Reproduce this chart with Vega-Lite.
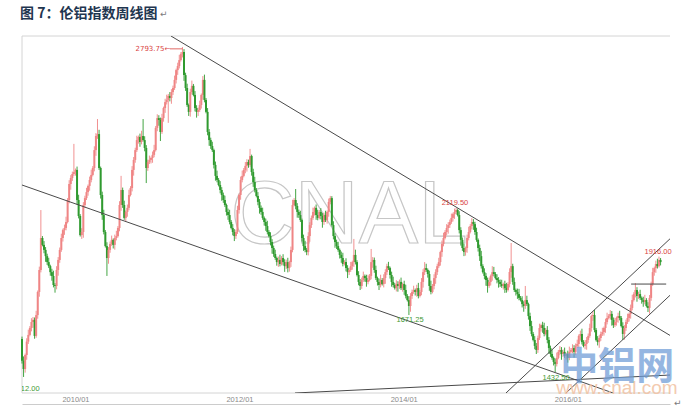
{
"$schema": "https://vega.github.io/schema/vega-lite/v6.json",
"width": 648, "height": 357,
"autosize": {"type": "none"},
"padding": {"left": 22, "top": 36, "right": 26, "bottom": 25},
"background": "#ffffff",
"title": {"text": "图 7：伦铝指数周线图", "anchor": "start", "frame": "group", "font": "Noto Sans CJK SC", "fontSize": 14, "fontWeight": "bold", "color": "#1f3650", "offset": -11, "dx": -2},
"config": {"view": {"stroke": null}},
"datasets": {
"k": [
{"t":"2009-05-08","o":1571,"h":1581,"l":1468,"c":1480},
{"t":"2009-05-15","o":1480,"h":1498,"l":1412,"c":1445},
{"t":"2009-05-22","o":1445,"h":1510,"l":1430,"c":1504},
{"t":"2009-05-29","o":1504,"h":1574,"l":1484,"c":1560},
{"t":"2009-06-05","o":1560,"h":1610,"l":1550,"c":1588},
{"t":"2009-06-12","o":1588,"h":1625,"l":1582,"c":1617},
{"t":"2009-06-19","o":1617,"h":1658,"l":1603,"c":1642},
{"t":"2009-06-26","o":1642,"h":1663,"l":1618,"c":1651},
{"t":"2009-07-03","o":1651,"h":1661,"l":1572,"c":1584},
{"t":"2009-07-10","o":1584,"h":1689,"l":1576,"c":1671},
{"t":"2009-07-17","o":1671,"h":1774,"l":1656,"c":1768},
{"t":"2009-07-24","o":1768,"h":1874,"l":1748,"c":1860},
{"t":"2009-07-31","o":1860,"h":2111,"l":1850,"c":1994},
{"t":"2009-08-07","o":1994,"h":2002,"l":1959,"c":1965},
{"t":"2009-08-14","o":1965,"h":1981,"l":1930,"c":1944},
{"t":"2009-08-21","o":1944,"h":1956,"l":1894,"c":1918},
{"t":"2009-08-28","o":1918,"h":1928,"l":1881,"c":1893},
{"t":"2009-09-04","o":1893,"h":1911,"l":1868,"c":1876},
{"t":"2009-09-11","o":1876,"h":1882,"l":1836,"c":1851},
{"t":"2009-09-18","o":1851,"h":1865,"l":1815,"c":1835},
{"t":"2009-09-25","o":1835,"h":1857,"l":1787,"c":1797},
{"t":"2009-10-02","o":1797,"h":1805,"l":1765,"c":1793},
{"t":"2009-10-09","o":1793,"h":1876,"l":1779,"c":1860},
{"t":"2009-10-16","o":1860,"h":1914,"l":1836,"c":1902},
{"t":"2009-10-23","o":1902,"h":1954,"l":1890,"c":1944},
{"t":"2009-10-30","o":1944,"h":2012,"l":1936,"c":1994},
{"t":"2009-11-06","o":1994,"h":2033,"l":1979,"c":2027},
{"t":"2009-11-13","o":2027,"h":2050,"l":2007,"c":2036},
{"t":"2009-11-20","o":2036,"h":2083,"l":2026,"c":2061},
{"t":"2009-11-27","o":2061,"h":2161,"l":2055,"c":2153},
{"t":"2009-12-04","o":2153,"h":2236,"l":2139,"c":2220},
{"t":"2009-12-11","o":2220,"h":2257,"l":2196,"c":2245},
{"t":"2009-12-18","o":2245,"h":2272,"l":2233,"c":2262},
{"t":"2009-12-25","o":2262,"h":2388,"l":2254,"c":2270},
{"t":"2010-01-01","o":2270,"h":2285,"l":2255,"c":2279},
{"t":"2010-01-08","o":2279,"h":2293,"l":2133,"c":2153},
{"t":"2010-01-15","o":2153,"h":2175,"l":2076,"c":2086},
{"t":"2010-01-22","o":2086,"h":2094,"l":2000,"c":2006},
{"t":"2010-01-29","o":2006,"h":2035,"l":1990,"c":2019},
{"t":"2010-02-05","o":2019,"h":2144,"l":1995,"c":2132},
{"t":"2010-02-12","o":2132,"h":2171,"l":2120,"c":2161},
{"t":"2010-02-19","o":2161,"h":2204,"l":2153,"c":2186},
{"t":"2010-02-26","o":2186,"h":2218,"l":2171,"c":2212},
{"t":"2010-03-05","o":2212,"h":2251,"l":2192,"c":2237},
{"t":"2010-03-12","o":2237,"h":2280,"l":2227,"c":2258},
{"t":"2010-03-19","o":2258,"h":2295,"l":2252,"c":2287},
{"t":"2010-03-26","o":2287,"h":2378,"l":2273,"c":2362},
{"t":"2010-04-02","o":2362,"h":2433,"l":2338,"c":2421},
{"t":"2010-04-09","o":2421,"h":2492,"l":2409,"c":2429},
{"t":"2010-04-16","o":2429,"h":2447,"l":2279,"c":2287},
{"t":"2010-04-23","o":2287,"h":2293,"l":2159,"c":2174},
{"t":"2010-04-30","o":2174,"h":2188,"l":2070,"c":2090},
{"t":"2010-05-07","o":2090,"h":2112,"l":2009,"c":2019},
{"t":"2010-05-14","o":2019,"h":2027,"l":1954,"c":1960},
{"t":"2010-05-21","o":1960,"h":1976,"l":1835,"c":1910},
{"t":"2010-05-28","o":1910,"h":1956,"l":1886,"c":1944},
{"t":"2010-06-04","o":1944,"h":1979,"l":1932,"c":1969},
{"t":"2010-06-11","o":1969,"h":2004,"l":1961,"c":1986},
{"t":"2010-06-18","o":1986,"h":1992,"l":1950,"c":1965},
{"t":"2010-06-25","o":1965,"h":2008,"l":1945,"c":1994},
{"t":"2010-07-02","o":1994,"h":2024,"l":1984,"c":2002},
{"t":"2010-07-09","o":2002,"h":2044,"l":1996,"c":2036},
{"t":"2010-07-16","o":2036,"h":2148,"l":2022,"c":2132},
{"t":"2010-07-23","o":2132,"h":2254,"l":2108,"c":2195},
{"t":"2010-07-30","o":2195,"h":2205,"l":2120,"c":2132},
{"t":"2010-08-06","o":2132,"h":2150,"l":2070,"c":2078},
{"t":"2010-08-13","o":2078,"h":2109,"l":2063,"c":2103},
{"t":"2010-08-20","o":2103,"h":2134,"l":2083,"c":2120},
{"t":"2010-08-27","o":2120,"h":2196,"l":2110,"c":2174},
{"t":"2010-09-03","o":2174,"h":2211,"l":2168,"c":2203},
{"t":"2010-09-10","o":2203,"h":2295,"l":2189,"c":2279},
{"t":"2010-09-17","o":2279,"h":2333,"l":2255,"c":2321},
{"t":"2010-09-24","o":2321,"h":2372,"l":2309,"c":2362},
{"t":"2010-10-01","o":2362,"h":2422,"l":2354,"c":2404},
{"t":"2010-10-08","o":2404,"h":2423,"l":2389,"c":2417},
{"t":"2010-10-15","o":2417,"h":2431,"l":2376,"c":2396},
{"t":"2010-10-22","o":2396,"h":2443,"l":2386,"c":2421},
{"t":"2010-10-29","o":2421,"h":2492,"l":2398,"c":2404},
{"t":"2010-11-05","o":2404,"h":2420,"l":2357,"c":2371},
{"t":"2010-11-12","o":2371,"h":2383,"l":2224,"c":2287},
{"t":"2010-11-19","o":2287,"h":2322,"l":2275,"c":2312},
{"t":"2010-11-26","o":2312,"h":2339,"l":2304,"c":2321},
{"t":"2010-12-03","o":2321,"h":2335,"l":2306,"c":2329},
{"t":"2010-12-10","o":2329,"h":2356,"l":2309,"c":2342},
{"t":"2010-12-17","o":2342,"h":2384,"l":2332,"c":2362},
{"t":"2010-12-24","o":2362,"h":2463,"l":2356,"c":2455},
{"t":"2010-12-31","o":2455,"h":2512,"l":2441,"c":2496},
{"t":"2011-01-07","o":2496,"h":2508,"l":2464,"c":2488},
{"t":"2011-01-14","o":2488,"h":2498,"l":2400,"c":2438},
{"t":"2011-01-21","o":2438,"h":2514,"l":2430,"c":2496},
{"t":"2011-01-28","o":2496,"h":2544,"l":2481,"c":2538},
{"t":"2011-02-04","o":2538,"h":2577,"l":2518,"c":2563},
{"t":"2011-02-11","o":2563,"h":2594,"l":2553,"c":2572},
{"t":"2011-02-18","o":2572,"h":2597,"l":2476,"c":2589},
{"t":"2011-02-25","o":2589,"h":2605,"l":2566,"c":2580},
{"t":"2011-03-04","o":2580,"h":2617,"l":2556,"c":2605},
{"t":"2011-03-11","o":2605,"h":2632,"l":2593,"c":2622},
{"t":"2011-03-18","o":2622,"h":2674,"l":2614,"c":2656},
{"t":"2011-03-25","o":2656,"h":2703,"l":2641,"c":2697},
{"t":"2011-04-01","o":2697,"h":2728,"l":2677,"c":2714},
{"t":"2011-04-08","o":2714,"h":2761,"l":2704,"c":2739},
{"t":"2011-04-15","o":2739,"h":2772,"l":2733,"c":2764},
{"t":"2011-04-22","o":2764,"h":2793.75,"l":2750,"c":2773},
{"t":"2011-04-29","o":2773,"h":2785,"l":2652,"c":2676},
{"t":"2011-05-06","o":2676,"h":2686,"l":2610,"c":2622},
{"t":"2011-05-13","o":2622,"h":2640,"l":2543,"c":2551},
{"t":"2011-05-20","o":2551,"h":2557,"l":2505,"c":2522},
{"t":"2011-05-27","o":2522,"h":2619,"l":2502,"c":2605},
{"t":"2011-06-03","o":2605,"h":2653,"l":2595,"c":2631},
{"t":"2011-06-10","o":2631,"h":2639,"l":2587,"c":2593},
{"t":"2011-06-17","o":2593,"h":2609,"l":2524,"c":2538},
{"t":"2011-06-24","o":2538,"h":2550,"l":2498,"c":2522},
{"t":"2011-07-01","o":2522,"h":2540,"l":2505,"c":2530},
{"t":"2011-07-08","o":2530,"h":2569,"l":2522,"c":2551},
{"t":"2011-07-15","o":2551,"h":2599,"l":2536,"c":2593},
{"t":"2011-07-22","o":2593,"h":2672,"l":2573,"c":2656},
{"t":"2011-07-29","o":2656,"h":2678,"l":2562,"c":2572},
{"t":"2011-08-05","o":2572,"h":2580,"l":2516,"c":2522},
{"t":"2011-08-12","o":2522,"h":2538,"l":2424,"c":2438},
{"t":"2011-08-19","o":2438,"h":2450,"l":2380,"c":2404},
{"t":"2011-08-26","o":2404,"h":2414,"l":2367,"c":2379},
{"t":"2011-09-02","o":2379,"h":2397,"l":2354,"c":2362},
{"t":"2011-09-09","o":2362,"h":2368,"l":2285,"c":2300},
{"t":"2011-09-16","o":2300,"h":2314,"l":2234,"c":2254},
{"t":"2011-09-23","o":2254,"h":2276,"l":2227,"c":2237},
{"t":"2011-09-30","o":2237,"h":2245,"l":2210,"c":2216},
{"t":"2011-10-07","o":2216,"h":2232,"l":2181,"c":2195},
{"t":"2011-10-14","o":2195,"h":2207,"l":2150,"c":2174},
{"t":"2011-10-21","o":2174,"h":2184,"l":2141,"c":2153},
{"t":"2011-10-28","o":2153,"h":2171,"l":2124,"c":2132},
{"t":"2011-11-04","o":2132,"h":2138,"l":2088,"c":2103},
{"t":"2011-11-11","o":2103,"h":2117,"l":2070,"c":2090},
{"t":"2011-11-18","o":2090,"h":2112,"l":2051,"c":2061},
{"t":"2011-11-25","o":2061,"h":2069,"l":2030,"c":2036},
{"t":"2011-12-02","o":2036,"h":2052,"l":2005,"c":2019},
{"t":"2011-12-09","o":2019,"h":2031,"l":1981,"c":2002},
{"t":"2011-12-16","o":2002,"h":2029,"l":1990,"c":2019},
{"t":"2011-12-23","o":2019,"h":2129,"l":2011,"c":2111},
{"t":"2011-12-30","o":2111,"h":2180,"l":2096,"c":2174},
{"t":"2012-01-06","o":2174,"h":2251,"l":2154,"c":2237},
{"t":"2012-01-13","o":2237,"h":2276,"l":2227,"c":2254},
{"t":"2012-01-20","o":2254,"h":2287,"l":2248,"c":2279},
{"t":"2012-01-27","o":2279,"h":2312,"l":2265,"c":2296},
{"t":"2012-02-03","o":2296,"h":2324,"l":2272,"c":2312},
{"t":"2012-02-10","o":2312,"h":2322,"l":2288,"c":2300},
{"t":"2012-02-17","o":2300,"h":2367,"l":2292,"c":2337},
{"t":"2012-02-24","o":2337,"h":2343,"l":2255,"c":2270},
{"t":"2012-03-02","o":2270,"h":2284,"l":2208,"c":2228},
{"t":"2012-03-09","o":2228,"h":2250,"l":2185,"c":2195},
{"t":"2012-03-16","o":2195,"h":2203,"l":2164,"c":2170},
{"t":"2012-03-23","o":2170,"h":2186,"l":2131,"c":2145},
{"t":"2012-03-30","o":2145,"h":2157,"l":2096,"c":2120},
{"t":"2012-04-06","o":2120,"h":2130,"l":2091,"c":2103},
{"t":"2012-04-13","o":2103,"h":2121,"l":2070,"c":2078},
{"t":"2012-04-20","o":2078,"h":2084,"l":2046,"c":2061},
{"t":"2012-04-27","o":2061,"h":2075,"l":2024,"c":2044},
{"t":"2012-05-04","o":2044,"h":2066,"l":2009,"c":2019},
{"t":"2012-05-11","o":2019,"h":2027,"l":1996,"c":2002},
{"t":"2012-05-18","o":2002,"h":2018,"l":1963,"c":1977},
{"t":"2012-05-25","o":1977,"h":1989,"l":1928,"c":1952},
{"t":"2012-06-01","o":1952,"h":1962,"l":1915,"c":1927},
{"t":"2012-06-08","o":1927,"h":1945,"l":1902,"c":1910},
{"t":"2012-06-15","o":1910,"h":1916,"l":1878,"c":1893},
{"t":"2012-06-22","o":1893,"h":1916,"l":1873,"c":1902},
{"t":"2012-06-29","o":1902,"h":1924,"l":1875,"c":1885},
{"t":"2012-07-06","o":1885,"h":1918,"l":1879,"c":1910},
{"t":"2012-07-13","o":1910,"h":1926,"l":1879,"c":1893},
{"t":"2012-07-20","o":1893,"h":1905,"l":1852,"c":1876},
{"t":"2012-07-27","o":1876,"h":1903,"l":1864,"c":1893},
{"t":"2012-08-03","o":1893,"h":1911,"l":1850,"c":1868},
{"t":"2012-08-10","o":1868,"h":1899,"l":1853,"c":1893},
{"t":"2012-08-17","o":1893,"h":1958,"l":1873,"c":1944},
{"t":"2012-08-24","o":1944,"h":2154,"l":1934,"c":2132},
{"t":"2012-08-31","o":2132,"h":2161,"l":2126,"c":2153},
{"t":"2012-09-07","o":2153,"h":2199,"l":2114,"c":2128},
{"t":"2012-09-14","o":2128,"h":2140,"l":2079,"c":2103},
{"t":"2012-09-21","o":2103,"h":2113,"l":2078,"c":2090},
{"t":"2012-09-28","o":2090,"h":2108,"l":2061,"c":2069},
{"t":"2012-10-05","o":2069,"h":2075,"l":1979,"c":1994},
{"t":"2012-10-12","o":1994,"h":2008,"l":1940,"c":1960},
{"t":"2012-10-19","o":1960,"h":1982,"l":1934,"c":1944},
{"t":"2012-10-26","o":1944,"h":1952,"l":1922,"c":1935},
{"t":"2012-11-02","o":1935,"h":2018,"l":1921,"c":2002},
{"t":"2012-11-09","o":2002,"h":2060,"l":1978,"c":2048},
{"t":"2012-11-16","o":2048,"h":2088,"l":2036,"c":2078},
{"t":"2012-11-23","o":2078,"h":2121,"l":2070,"c":2103},
{"t":"2012-11-30","o":2103,"h":2126,"l":2088,"c":2120},
{"t":"2012-12-07","o":2120,"h":2134,"l":2070,"c":2090},
{"t":"2012-12-14","o":2090,"h":2112,"l":2068,"c":2078},
{"t":"2012-12-21","o":2078,"h":2111,"l":2072,"c":2103},
{"t":"2012-12-28","o":2103,"h":2119,"l":2072,"c":2086},
{"t":"2013-01-04","o":2086,"h":2098,"l":2037,"c":2061},
{"t":"2013-01-11","o":2061,"h":2100,"l":2049,"c":2090},
{"t":"2013-01-18","o":2090,"h":2108,"l":2061,"c":2069},
{"t":"2013-01-25","o":2069,"h":2109,"l":2054,"c":2103},
{"t":"2013-02-01","o":2103,"h":2159,"l":2083,"c":2145},
{"t":"2013-02-08","o":2145,"h":2170,"l":2135,"c":2161},
{"t":"2013-02-15","o":2161,"h":2169,"l":2042,"c":2048},
{"t":"2013-02-22","o":2048,"h":2064,"l":1988,"c":2002},
{"t":"2013-03-01","o":2002,"h":2014,"l":1953,"c":1977},
{"t":"2013-03-08","o":1977,"h":1987,"l":1948,"c":1960},
{"t":"2013-03-15","o":1960,"h":1978,"l":1936,"c":1944},
{"t":"2013-03-22","o":1944,"h":1950,"l":1908,"c":1923},
{"t":"2013-03-29","o":1923,"h":1937,"l":1890,"c":1910},
{"t":"2013-04-05","o":1910,"h":1932,"l":1875,"c":1885},
{"t":"2013-04-12","o":1885,"h":1901,"l":1879,"c":1893},
{"t":"2013-04-19","o":1893,"h":1909,"l":1854,"c":1868},
{"t":"2013-04-26","o":1868,"h":1880,"l":1826,"c":1851},
{"t":"2013-05-03","o":1851,"h":1870,"l":1839,"c":1860},
{"t":"2013-05-10","o":1860,"h":1894,"l":1852,"c":1876},
{"t":"2013-05-17","o":1876,"h":1899,"l":1861,"c":1893},
{"t":"2013-05-24","o":1893,"h":1990,"l":1873,"c":1923},
{"t":"2013-05-31","o":1923,"h":1945,"l":1883,"c":1893},
{"t":"2013-06-07","o":1893,"h":1901,"l":1833,"c":1839},
{"t":"2013-06-14","o":1839,"h":1855,"l":1796,"c":1810},
{"t":"2013-06-21","o":1810,"h":1822,"l":1776,"c":1793},
{"t":"2013-06-28","o":1793,"h":1828,"l":1781,"c":1818},
{"t":"2013-07-05","o":1818,"h":1853,"l":1810,"c":1835},
{"t":"2013-07-12","o":1835,"h":1841,"l":1811,"c":1826},
{"t":"2013-07-19","o":1826,"h":1840,"l":1790,"c":1810},
{"t":"2013-07-26","o":1810,"h":1840,"l":1800,"c":1818},
{"t":"2013-08-02","o":1818,"h":1843,"l":1812,"c":1835},
{"t":"2013-08-09","o":1835,"h":1948,"l":1821,"c":1893},
{"t":"2013-08-16","o":1893,"h":1914,"l":1869,"c":1902},
{"t":"2013-08-23","o":1902,"h":1912,"l":1848,"c":1860},
{"t":"2013-08-30","o":1860,"h":1878,"l":1818,"c":1826},
{"t":"2013-09-06","o":1826,"h":1832,"l":1795,"c":1810},
{"t":"2013-09-13","o":1810,"h":1824,"l":1776,"c":1797},
{"t":"2013-09-20","o":1797,"h":1840,"l":1787,"c":1818},
{"t":"2013-09-27","o":1818,"h":1826,"l":1795,"c":1801},
{"t":"2013-10-04","o":1801,"h":1842,"l":1787,"c":1826},
{"t":"2013-10-11","o":1826,"h":1863,"l":1802,"c":1851},
{"t":"2013-10-18","o":1851,"h":1886,"l":1839,"c":1876},
{"t":"2013-10-25","o":1876,"h":1894,"l":1860,"c":1868},
{"t":"2013-11-01","o":1868,"h":1874,"l":1824,"c":1839},
{"t":"2013-11-08","o":1839,"h":1853,"l":1790,"c":1810},
{"t":"2013-11-15","o":1810,"h":1832,"l":1787,"c":1797},
{"t":"2013-11-22","o":1797,"h":1805,"l":1778,"c":1784},
{"t":"2013-11-29","o":1784,"h":1817,"l":1770,"c":1801},
{"t":"2013-12-06","o":1801,"h":1813,"l":1769,"c":1793},
{"t":"2013-12-13","o":1793,"h":1820,"l":1781,"c":1810},
{"t":"2013-12-20","o":1810,"h":1828,"l":1776,"c":1784},
{"t":"2013-12-27","o":1784,"h":1807,"l":1769,"c":1801},
{"t":"2014-01-03","o":1801,"h":1815,"l":1756,"c":1776},
{"t":"2014-01-10","o":1776,"h":1798,"l":1741,"c":1751},
{"t":"2014-01-17","o":1751,"h":1759,"l":1728,"c":1734},
{"t":"2014-01-24","o":1734,"h":1750,"l":1671.25,"c":1709},
{"t":"2014-01-31","o":1709,"h":1763,"l":1685,"c":1751},
{"t":"2014-02-07","o":1751,"h":1778,"l":1739,"c":1768},
{"t":"2014-02-14","o":1768,"h":1794,"l":1760,"c":1776},
{"t":"2014-02-21","o":1776,"h":1782,"l":1753,"c":1768},
{"t":"2014-02-28","o":1768,"h":1798,"l":1748,"c":1784},
{"t":"2014-03-07","o":1784,"h":1806,"l":1741,"c":1751},
{"t":"2014-03-14","o":1751,"h":1776,"l":1745,"c":1768},
{"t":"2014-03-21","o":1768,"h":1826,"l":1754,"c":1810},
{"t":"2014-03-28","o":1810,"h":1863,"l":1786,"c":1851},
{"t":"2014-04-04","o":1851,"h":1893,"l":1839,"c":1868},
{"t":"2014-04-11","o":1868,"h":1886,"l":1852,"c":1860},
{"t":"2014-04-18","o":1860,"h":1866,"l":1828,"c":1843},
{"t":"2014-04-25","o":1843,"h":1857,"l":1773,"c":1793},
{"t":"2014-05-02","o":1793,"h":1815,"l":1758,"c":1768},
{"t":"2014-05-09","o":1768,"h":1801,"l":1762,"c":1793},
{"t":"2014-05-16","o":1793,"h":1842,"l":1779,"c":1826},
{"t":"2014-05-23","o":1826,"h":1863,"l":1802,"c":1851},
{"t":"2014-05-30","o":1851,"h":1886,"l":1839,"c":1876},
{"t":"2014-06-06","o":1876,"h":1911,"l":1868,"c":1893},
{"t":"2014-06-13","o":1893,"h":1941,"l":1878,"c":1935},
{"t":"2014-06-20","o":1935,"h":1983,"l":1915,"c":1969},
{"t":"2014-06-27","o":1969,"h":2016,"l":1959,"c":1994},
{"t":"2014-07-04","o":1994,"h":2027,"l":1988,"c":2019},
{"t":"2014-07-11","o":2019,"h":2052,"l":2005,"c":2036},
{"t":"2014-07-18","o":2036,"h":2060,"l":2012,"c":2048},
{"t":"2014-07-25","o":2048,"h":2071,"l":2036,"c":2061},
{"t":"2014-08-01","o":2061,"h":2096,"l":2053,"c":2078},
{"t":"2014-08-08","o":2078,"h":2100,"l":2063,"c":2094},
{"t":"2014-08-15","o":2094,"h":2117,"l":2074,"c":2103},
{"t":"2014-08-22","o":2103,"h":2119.5,"l":2093,"c":2111},
{"t":"2014-08-29","o":2111,"h":2117,"l":2084,"c":2090},
{"t":"2014-09-05","o":2090,"h":2106,"l":2013,"c":2027},
{"t":"2014-09-12","o":2027,"h":2039,"l":1962,"c":1986},
{"t":"2014-09-19","o":1986,"h":1996,"l":1940,"c":1952},
{"t":"2014-09-26","o":1952,"h":1970,"l":1918,"c":1935},
{"t":"2014-10-03","o":1935,"h":1958,"l":1920,"c":1952},
{"t":"2014-10-10","o":1952,"h":2008,"l":1932,"c":1994},
{"t":"2014-10-17","o":1994,"h":2041,"l":1984,"c":2019},
{"t":"2014-10-24","o":2019,"h":2052,"l":2013,"c":2044},
{"t":"2014-10-31","o":2044,"h":2077,"l":2030,"c":2061},
{"t":"2014-11-07","o":2061,"h":2073,"l":2028,"c":2052},
{"t":"2014-11-14","o":2052,"h":2062,"l":2007,"c":2019},
{"t":"2014-11-21","o":2019,"h":2037,"l":1978,"c":1986},
{"t":"2014-11-28","o":1986,"h":1992,"l":1937,"c":1952},
{"t":"2014-12-05","o":1952,"h":1966,"l":1898,"c":1918},
{"t":"2014-12-12","o":1918,"h":1940,"l":1866,"c":1876},
{"t":"2014-12-19","o":1876,"h":1884,"l":1845,"c":1851},
{"t":"2014-12-26","o":1851,"h":1867,"l":1821,"c":1835},
{"t":"2015-01-02","o":1835,"h":1847,"l":1794,"c":1818},
{"t":"2015-01-09","o":1818,"h":1828,"l":1765,"c":1793},
{"t":"2015-01-16","o":1793,"h":1828,"l":1785,"c":1810},
{"t":"2015-01-23","o":1810,"h":1841,"l":1795,"c":1835},
{"t":"2015-01-30","o":1835,"h":1876,"l":1815,"c":1851},
{"t":"2015-02-06","o":1851,"h":1873,"l":1833,"c":1843},
{"t":"2015-02-13","o":1843,"h":1851,"l":1820,"c":1826},
{"t":"2015-02-20","o":1826,"h":1842,"l":1804,"c":1818},
{"t":"2015-02-27","o":1818,"h":1830,"l":1786,"c":1810},
{"t":"2015-03-06","o":1810,"h":1820,"l":1789,"c":1801},
{"t":"2015-03-13","o":1801,"h":1819,"l":1785,"c":1793},
{"t":"2015-03-20","o":1793,"h":1807,"l":1778,"c":1801},
{"t":"2015-03-27","o":1801,"h":1815,"l":1764,"c":1784},
{"t":"2015-04-03","o":1784,"h":1806,"l":1765,"c":1776},
{"t":"2015-04-10","o":1776,"h":1809,"l":1770,"c":1801},
{"t":"2015-04-17","o":1801,"h":1867,"l":1787,"c":1851},
{"t":"2015-04-24","o":1851,"h":1973,"l":1827,"c":1876},
{"t":"2015-05-01","o":1876,"h":1886,"l":1798,"c":1810},
{"t":"2015-05-08","o":1810,"h":1828,"l":1768,"c":1776},
{"t":"2015-05-15","o":1776,"h":1782,"l":1753,"c":1768},
{"t":"2015-05-22","o":1768,"h":1782,"l":1739,"c":1759},
{"t":"2015-05-29","o":1759,"h":1781,"l":1733,"c":1743},
{"t":"2015-06-05","o":1743,"h":1751,"l":1728,"c":1734},
{"t":"2015-06-12","o":1734,"h":1750,"l":1703,"c":1717},
{"t":"2015-06-19","o":1717,"h":1729,"l":1685,"c":1709},
{"t":"2015-06-26","o":1709,"h":1793,"l":1697,"c":1734},
{"t":"2015-07-03","o":1734,"h":1752,"l":1709,"c":1717},
{"t":"2015-07-10","o":1717,"h":1723,"l":1652,"c":1667},
{"t":"2015-07-17","o":1667,"h":1681,"l":1605,"c":1625},
{"t":"2015-07-24","o":1625,"h":1647,"l":1582,"c":1592},
{"t":"2015-07-31","o":1592,"h":1600,"l":1561,"c":1567},
{"t":"2015-08-07","o":1567,"h":1583,"l":1528,"c":1542},
{"t":"2015-08-14","o":1542,"h":1554,"l":1508,"c":1525},
{"t":"2015-08-21","o":1525,"h":1585,"l":1513,"c":1575},
{"t":"2015-08-28","o":1575,"h":1635,"l":1567,"c":1617},
{"t":"2015-09-04","o":1617,"h":1635,"l":1602,"c":1629},
{"t":"2015-09-11","o":1629,"h":1643,"l":1597,"c":1617},
{"t":"2015-09-18","o":1617,"h":1639,"l":1582,"c":1592},
{"t":"2015-09-25","o":1592,"h":1617,"l":1586,"c":1609},
{"t":"2015-10-02","o":1609,"h":1625,"l":1553,"c":1567},
{"t":"2015-10-09","o":1567,"h":1579,"l":1509,"c":1533},
{"t":"2015-10-16","o":1533,"h":1543,"l":1496,"c":1508},
{"t":"2015-10-23","o":1508,"h":1526,"l":1484,"c":1492},
{"t":"2015-10-30","o":1492,"h":1498,"l":1460,"c":1475},
{"t":"2015-11-06","o":1475,"h":1489,"l":1432.5,"c":1466},
{"t":"2015-11-13","o":1466,"h":1514,"l":1456,"c":1492},
{"t":"2015-11-20","o":1492,"h":1525,"l":1486,"c":1517},
{"t":"2015-11-27","o":1517,"h":1541,"l":1503,"c":1525},
{"t":"2015-12-04","o":1525,"h":1537,"l":1484,"c":1508},
{"t":"2015-12-11","o":1508,"h":1527,"l":1496,"c":1517},
{"t":"2015-12-18","o":1517,"h":1535,"l":1492,"c":1500},
{"t":"2015-12-25","o":1500,"h":1514,"l":1485,"c":1508},
{"t":"2016-01-01","o":1508,"h":1522,"l":1472,"c":1492},
{"t":"2016-01-08","o":1492,"h":1539,"l":1482,"c":1517},
{"t":"2016-01-15","o":1517,"h":1533,"l":1511,"c":1525},
{"t":"2016-01-22","o":1525,"h":1549,"l":1511,"c":1533},
{"t":"2016-01-29","o":1533,"h":1545,"l":1493,"c":1517},
{"t":"2016-02-05","o":1517,"h":1552,"l":1505,"c":1542},
{"t":"2016-02-12","o":1542,"h":1568,"l":1534,"c":1550},
{"t":"2016-02-19","o":1550,"h":1590,"l":1535,"c":1584},
{"t":"2016-02-26","o":1584,"h":1606,"l":1564,"c":1592},
{"t":"2016-03-04","o":1592,"h":1614,"l":1548,"c":1558},
{"t":"2016-03-11","o":1558,"h":1566,"l":1536,"c":1542},
{"t":"2016-03-18","o":1542,"h":1566,"l":1528,"c":1550},
{"t":"2016-03-25","o":1550,"h":1579,"l":1526,"c":1567},
{"t":"2016-04-01","o":1567,"h":1594,"l":1555,"c":1584},
{"t":"2016-04-08","o":1584,"h":1635,"l":1576,"c":1617},
{"t":"2016-04-15","o":1617,"h":1673,"l":1602,"c":1667},
{"t":"2016-04-22","o":1667,"h":1688,"l":1647,"c":1671},
{"t":"2016-04-29","o":1671,"h":1693,"l":1599,"c":1609},
{"t":"2016-05-06","o":1609,"h":1617,"l":1561,"c":1567},
{"t":"2016-05-13","o":1567,"h":1583,"l":1544,"c":1558},
{"t":"2016-05-20","o":1558,"h":1587,"l":1534,"c":1575},
{"t":"2016-05-27","o":1575,"h":1602,"l":1563,"c":1592},
{"t":"2016-06-03","o":1592,"h":1618,"l":1584,"c":1600},
{"t":"2016-06-10","o":1600,"h":1623,"l":1585,"c":1617},
{"t":"2016-06-17","o":1617,"h":1656,"l":1597,"c":1642},
{"t":"2016-06-24","o":1642,"h":1681,"l":1632,"c":1659},
{"t":"2016-07-01","o":1659,"h":1675,"l":1653,"c":1667},
{"t":"2016-07-08","o":1667,"h":1692,"l":1653,"c":1676},
{"t":"2016-07-15","o":1676,"h":1688,"l":1627,"c":1651},
{"t":"2016-07-22","o":1651,"h":1661,"l":1617,"c":1629},
{"t":"2016-07-29","o":1629,"h":1660,"l":1621,"c":1642},
{"t":"2016-08-05","o":1642,"h":1665,"l":1627,"c":1659},
{"t":"2016-08-12","o":1659,"h":1681,"l":1639,"c":1667},
{"t":"2016-08-19","o":1667,"h":1689,"l":1649,"c":1659},
{"t":"2016-08-26","o":1659,"h":1667,"l":1619,"c":1625},
{"t":"2016-09-02","o":1625,"h":1641,"l":1567,"c":1592},
{"t":"2016-09-09","o":1592,"h":1629,"l":1568,"c":1617},
{"t":"2016-09-16","o":1617,"h":1652,"l":1605,"c":1642},
{"t":"2016-09-23","o":1642,"h":1677,"l":1634,"c":1659},
{"t":"2016-09-30","o":1659,"h":1682,"l":1644,"c":1676},
{"t":"2016-10-07","o":1676,"h":1715,"l":1656,"c":1701},
{"t":"2016-10-14","o":1701,"h":1756,"l":1691,"c":1734},
{"t":"2016-10-21","o":1734,"h":1767,"l":1728,"c":1759},
{"t":"2016-10-28","o":1759,"h":1805,"l":1745,"c":1776},
{"t":"2016-11-04","o":1776,"h":1788,"l":1727,"c":1751},
{"t":"2016-11-11","o":1751,"h":1769,"l":1739,"c":1759},
{"t":"2016-11-18","o":1759,"h":1777,"l":1735,"c":1743},
{"t":"2016-11-25","o":1743,"h":1749,"l":1719,"c":1734},
{"t":"2016-12-02","o":1734,"h":1748,"l":1706,"c":1726},
{"t":"2016-12-09","o":1726,"h":1756,"l":1716,"c":1734},
{"t":"2016-12-16","o":1734,"h":1742,"l":1703,"c":1709},
{"t":"2016-12-23","o":1709,"h":1725,"l":1684,"c":1701},
{"t":"2016-12-30","o":1701,"h":1755,"l":1677,"c":1743},
{"t":"2017-01-06","o":1743,"h":1811,"l":1731,"c":1801},
{"t":"2017-01-13","o":1801,"h":1869,"l":1793,"c":1851},
{"t":"2017-01-20","o":1851,"h":1874,"l":1836,"c":1868},
{"t":"2017-01-27","o":1868,"h":1899,"l":1848,"c":1885},
{"t":"2017-02-03","o":1885,"h":1907,"l":1866,"c":1876},
{"t":"2017-02-10","o":1876,"h":1916,"l":1870,"c":1902},
{"t":"2017-02-17","o":1902,"h":1910,"l":1879,"c":1893}
],
"lines": [
{"t":"2011-03-02","p":2839.8,"t2":"2017-03-31","p2":1586},
{"t":"2009-05-08","p":2215.8,"t2":"2016-07-21","p2":1344.8},
{"t":"2012-09-04","p":1344.8,"t2":"2017-03-31","p2":1420},
{"t":"2015-04-01","p":1344.8,"t2":"2017-03-31","p2":1990.6},
{"t":"2015-12-24","p":1344.8,"t2":"2017-03-31","p2":1754},
{"t":"2016-10-09","p":1801,"t2":"2017-03-14","p2":1801}
],
"frame": [
{"t":"2009-05-08","p":2839.8,"t2":"2017-03-31","p2":2839.8},
{"t":"2009-05-08","p":1344.8,"t2":"2009-05-08","p2":2839.8},
{"t":"2009-05-08","p":1344.8,"t2":"2017-03-31","p2":1344.8}
],
"labels": [
{"t":"2014-08-17","p":2140.5,"s":"2119.50","col":"#d9443f"},
{"t":"2014-01-29","p":1650.5,"s":"1671.25","col":"#3f9a35"},
{"t":"2015-11-10","p":1407.6,"s":"1432.50","col":"#3f9a35"},
{"t":"2017-02-06","p":1935.3,"s":"1916.00","col":"#d9443f"}
]
},
"encoding": {
"x": {"field": "t", "type": "temporal",
"scale": {"type": "utc", "padding": 0, "domain": [{"year": 2009, "month": 5, "date": 8, "utc": true}, {"year": 2017, "month": 3, "date": 31, "utc": true}]},
"axis": {"values": [{"year": 2010, "month": 1, "date": 1, "utc": true}, {"year": 2012, "month": 1, "date": 1, "utc": true}, {"year": 2014, "month": 1, "date": 1, "utc": true}, {"year": 2016, "month": 1, "date": 1, "utc": true}],
"labelExpr": "utcFormat(datum.value, '%Y/%m')", "ticks": false, "grid": false, "domainColor": "#cccccc", "offset": 11, "labelPadding": -9, "labelFontSize": 7.5, "labelColor": "#8a8a8a", "labelFont": "Liberation Sans", "title": null}}
},
"layer": [
{"data": {"name": "frame"},
"mark": {"type": "rule", "color": "#d4d4d4", "strokeWidth": 1},
"encoding": {"x2": {"field": "t2"}, "y": {"field": "p", "type": "quantitative", "scale": {"domain": [1344.8, 2839.8], "nice": false, "zero": false}, "axis": null}, "y2": {"field": "p2"}}},
{"data": {"values": [{"t": "2013-05-02", "p": 1973, "s": "CNAL"}]},
"mark": {"type": "text", "font": "Liberation Sans", "fontSize": 89, "baseline": "alphabetic", "align": "center", "fill": "transparent", "stroke": "#c6c6c6", "strokeWidth": 1.2},
"encoding": {"y": {"field": "p", "type": "quantitative", "scale": {"domain": [1344.8, 2839.8], "nice": false, "zero": false}, "axis": null}, "text": {"field": "s"}}},
{"data": {"name": "k"},
"mark": {"type": "rule", "strokeWidth": 1, "opacity": 0.9},
"encoding": {"y": {"field": "l", "type": "quantitative", "scale": {"domain": [1344.8, 2839.8], "nice": false, "zero": false}, "axis": null}, "y2": {"field": "h"},
"color": {"condition": {"test": "datum.c >= datum.o", "value": "#ef8585"}, "value": "#2f9a2f"}}},
{"data": {"name": "k"},
"mark": {"type": "bar", "size": 2},
"encoding": {"y": {"field": "o", "type": "quantitative", "scale": {"domain": [1344.8, 2839.8], "nice": false, "zero": false}, "axis": null}, "y2": {"field": "c"},
"color": {"condition": {"test": "datum.c >= datum.o", "value": "#ef8585"}, "value": "#2f9a2f"}}},
{"data": {"name": "lines"},
"mark": {"type": "rule", "color": "#4a4a4a", "strokeWidth": 1, "clip": true},
"encoding": {"x2": {"field": "t2"}, "y": {"field": "p", "type": "quantitative", "scale": {"domain": [1344.8, 2839.8], "nice": false, "zero": false}, "axis": null}, "y2": {"field": "p2"}}},
{"data": {"values": [{"t": "2011-02-25", "t2": "2011-04-22", "p": 2786, "p2": 2786}]},
"mark": {"type": "rule", "color": "#d9443f", "strokeWidth": 0.8},
"encoding": {"x2": {"field": "t2"}, "y": {"field": "p", "type": "quantitative", "scale": {"domain": [1344.8, 2839.8], "nice": false, "zero": false}, "axis": null}, "y2": {"field": "p2"}}},
{"data": {"name": "labels"},
"mark": {"type": "text", "font": "Liberation Sans", "fontSize": 7.5, "align": "center", "baseline": "middle"},
"encoding": {"y": {"field": "p", "type": "quantitative", "scale": {"domain": [1344.8, 2839.8], "nice": false, "zero": false}, "axis": null}, "text": {"field": "s"}, "color": {"field": "col", "type": "nominal", "scale": null}}},
{"data": {"values": [{"t": "2011-02-27", "p": 2786, "s": "2793.75←"}]},
"mark": {"type": "text", "font": "DejaVu Sans", "fontSize": 7, "align": "right", "baseline": "middle", "color": "#d9443f"},
"encoding": {"y": {"field": "p", "type": "quantitative", "scale": {"domain": [1344.8, 2839.8], "nice": false, "zero": false}, "axis": null}, "text": {"field": "s"}}},
{"data": {"values": [{"t": "2009-05-08", "p": 1361.6, "s": "1412.00"}]},
"mark": {"type": "text", "font": "Liberation Sans", "fontSize": 7.5, "align": "left", "baseline": "middle", "dx": -9.5, "color": "#3f9a35", "clip": true},
"encoding": {"y": {"field": "p", "type": "quantitative", "scale": {"domain": [1344.8, 2839.8], "nice": false, "zero": false}, "axis": null}, "text": {"field": "s"}}},
{"data": {"values": [{"t": "2016-08-08", "p": 1450, "s": "中铝网"}]},
"mark": {"type": "text", "font": "Noto Sans CJK SC", "fontSize": 38, "fontWeight": "bold", "align": "center", "baseline": "middle", "color": "#6d9bd6", "opacity": 0.72},
"encoding": {"y": {"field": "p", "type": "quantitative", "scale": {"domain": [1344.8, 2839.8], "nice": false, "zero": false}, "axis": null}, "text": {"field": "s"}}},
{"data": {"values": [{"t": "2016-08-07", "p": 1342, "s": "www.cnal.com"}]},
"mark": {"type": "text", "font": "Liberation Sans", "fontSize": 19, "align": "center", "baseline": "alphabetic", "color": "#f2c2a2", "opacity": 0.85},
"encoding": {"y": {"field": "p", "type": "quantitative", "scale": {"domain": [1344.8, 2839.8], "nice": false, "zero": false}, "axis": null}, "text": {"field": "s"}}},
{"data": {"values": [{"t": "2011-01-12", "p": 2930, "s": "↵"}, {"t": "2017-04-18", "p": 1303, "s": "↵"}]},
"mark": {"type": "text", "font": "DejaVu Sans", "fontSize": 9, "align": "left", "baseline": "middle", "color": "#7a7a7a"},
"encoding": {"y": {"field": "p", "type": "quantitative", "scale": {"domain": [1344.8, 2839.8], "nice": false, "zero": false}, "axis": null}, "text": {"field": "s"}}}
]
}
